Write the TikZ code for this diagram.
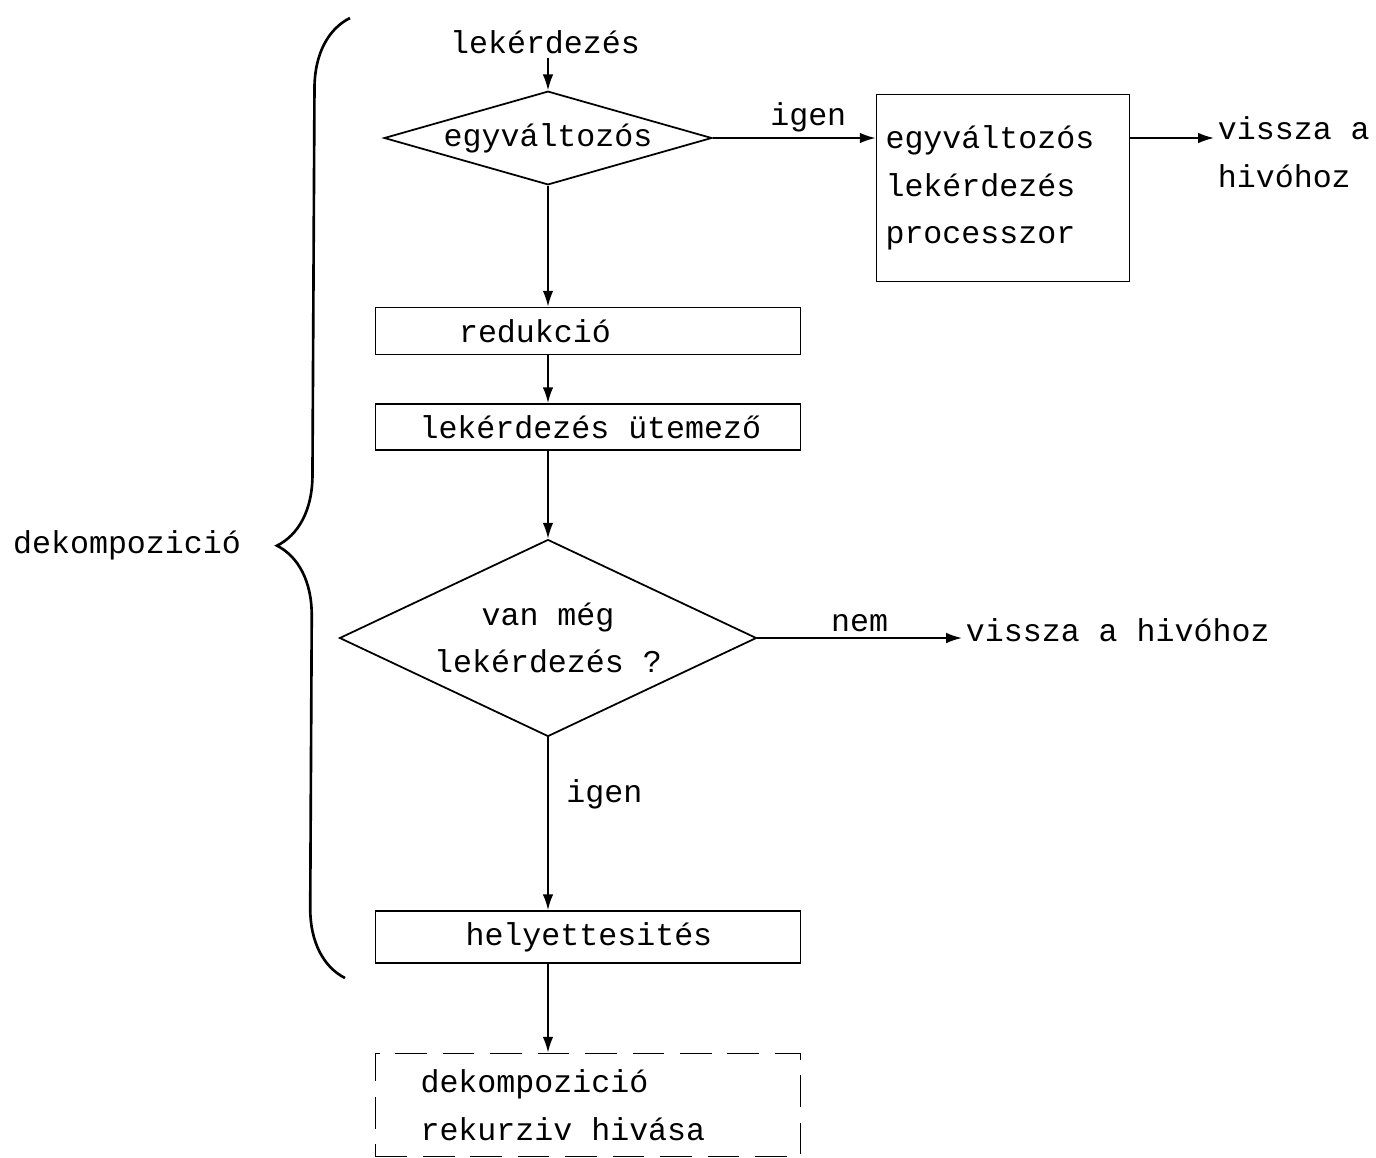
\documentclass[tikz,border=0pt]{standalone}
\usepackage{fontspec}
\setmonofont{Liberation Mono}
\usetikzlibrary{shapes.geometric,arrows.meta,decorations.pathreplacing}

\tikzset{
	flow/.style={line width=1pt,->,>={Latex[length=9pt,width=6pt]}},
	dontes/.style={draw,diamond,line width=1pt,inner sep=1pt,align=center},
	doboz/.style={draw,rectangle,line width=1pt,minimum width=8.5cm},
	felirat/.style={inner sep=2pt,align=left}
}
\newcommand{\balra}[2]{\makebox[8.1cm][l]{\hspace*{#1}#2}}

\begin{document}
\begin{tikzpicture}[x=0.02cm,y=-0.02cm,font=\ttfamily\fontsize{18}{27}\selectfont]
		\useasboundingbox (0,0) rectangle (1376,1157);
		% felso ag
		\node[felirat] (query) at (545,42) {lekérdezés};
		\node[dontes,aspect=3.5,minimum width=6.44cm,minimum height=1.84cm] (d1) at (548,138) {egyváltozós};
		\node[draw,line width=1pt,minimum width=5.06cm,minimum height=3.74cm,text width=4.7cm,align=left] (proc) at (1003,188)
			{egyváltozós\\lekérdezés\\processzor};
		\node[felirat,anchor=north west] (ret1) at (1214,113) {vissza a\\hivóhoz};
		\draw[flow] (query.south -| d1.north) -- (d1.north);
		\draw[flow] (d1.east) -- node[above,inner sep=3pt,xshift=8pt] {igen} (d1.east -| proc.west);
		\draw[flow] (proc.east |- d1.east) -- (ret1.west |- d1.east);
		% dobozok
		\node[doboz,minimum height=0.94cm] (red) at (588,331) {\balra{1.47cm}{redukció}};
		\node[doboz,minimum height=0.92cm] (utem) at (588,427) {\balra{0.68cm}{lekérdezés ütemező}};
		\draw[flow] (d1.south) -- (d1.south |- red.north);
		\draw[flow] (d1.south |- red.south) -- (d1.south |- utem.north);
		% van meg
		\node[dontes,aspect=2.1,minimum width=8.34cm,minimum height=3.94cm] (d2) at (548,638) {van még\\lekérdezés ?};
		\node[felirat,anchor=west] (ret2) at (962,630) {vissza a hivóhoz};
		\draw[flow] (d1.south |- utem.south) -- (d2.north);
		\draw[flow] (d2.east) -- node[above,inner sep=3pt] {nem} (ret2.west |- d2.east);
		\node[doboz,minimum height=1.04cm] (helyet) at (588,937) {\balra{1.6cm}{helyettesités}};
		\draw[flow] (d2.south) -- node[pos=0.33,right,inner sep=10pt] {igen} (d2.south |- helyet.north);
		% rekurziv hivas
		\node[doboz,dashed,dash pattern=on 18pt off 9pt,minimum height=2.06cm,align=left] (rek) at (588,1105)
			{\balra{0.7cm}{dekompozició}\\\balra{0.7cm}{rekurziv hivása}};
		\draw[flow] (d2.south |- helyet.south) -- (d2.south |- rek.north);
		% kapcsos zarojel
		\coordinate (zalso) at (345,978);
		\coordinate (zfelso) at (350,18);
		\draw[line width=1.5pt,decorate,decoration={brace,amplitude=40pt,aspect=0.45}] (zalso) -- (zfelso);
		\node[felirat] (dekomp) at (127,545) {dekompozició};
\end{tikzpicture}
\end{document}
